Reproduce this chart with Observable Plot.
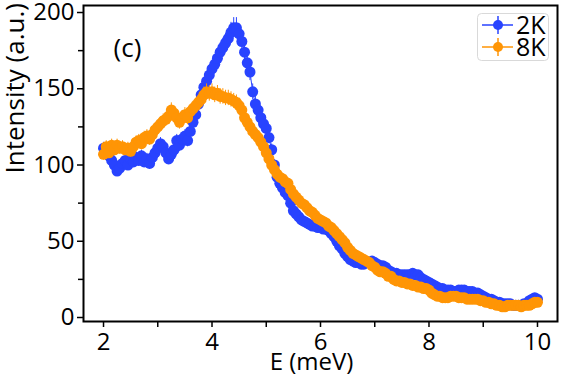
<!DOCTYPE html>
<html><head><meta charset="utf-8">
<script src="https://cdn.jsdelivr.net/npm/d3@7"></script>
<script src="https://cdn.jsdelivr.net/npm/@observablehq/plot@0.6"></script>
<style>
body{margin:0;background:#fff;}
#wrap{position:relative;width:565px;height:377px;font-family:"Open Sans",sans-serif;}
#legend{position:absolute;left:477px;top:13px;}
</style></head><body><div id="wrap"></div>
<script>
const energy = [
2.00,2.05,2.10,2.15,2.20,2.25,2.30,2.35,2.40,2.45,2.50,2.55,2.60,2.65,2.70,2.75,2.80,2.85,2.90,2.95,
3.00,3.05,3.10,3.15,3.20,3.25,3.30,3.35,3.40,3.45,3.50,3.55,3.60,3.65,3.70,3.75,3.80,3.85,3.90,3.95,
4.00,4.05,4.10,4.15,4.20,4.25,4.30,4.35,4.40,4.45,4.50,4.55,4.60,4.65,4.70,4.75,4.80,4.85,4.90,4.95,
5.00,5.05,5.10,5.15,5.20,5.25,5.30,5.35,5.40,5.45,5.50,5.55,5.60,5.65,5.70,5.75,5.80,5.85,5.90,5.95,
6.00,6.05,6.10,6.15,6.20,6.25,6.30,6.35,6.40,6.45,6.50,6.55,6.60,6.65,6.70,6.75,6.80,6.85,6.90,6.95,
7.00,7.05,7.10,7.15,7.20,7.25,7.30,7.35,7.40,7.45,7.50,7.55,7.60,7.65,7.70,7.75,7.80,7.85,7.90,7.95,
8.00,8.05,8.10,8.15,8.20,8.25,8.30,8.35,8.40,8.45,8.50,8.55,8.60,8.65,8.70,8.75,8.80,8.85,8.90,8.95,
9.00,9.05,9.10,9.15,9.20,9.25,9.30,9.35,9.40,9.45,9.50,9.55,9.60,9.65,9.70,9.75,9.80,9.85,9.90,9.95,
10.00];
const int2K = [
111,108,106,103,100,96,98,101,103,100,104,102,105,103,106,102,104,101,105,108,
111,114,112,108,104,107,110,116,113,117,119,116,122,128,133,140,146,151,155,159,
163,166,170,174,177,180,183,187,190,190,186,181,174,167,161,148,140,136,131,127,
124,118,110,100,92,88,85,82,80,75,70,68,66,64,63,62,61,60,60,59,
59,58,58,57,55,53,50,47,45,42,40,38,37,36,36,35,35,36,36,37,
36,35,34,34,33,31,30,29,29,28,28,28,28,28,29,28,28,26,25,24,
23,22,21,20,19,19,18,18,18,17,17,18,18,18,17,17,17,16,16,15,
14,13,12,12,11,10,10,9,9,9,9,8,8,8,8,9,9,11,12,13,
12];
const int8K = [
107,112,108,113,110,113,111,112,110,111,109,112,115,116,114,118,119,117,120,123,
125,127,129,130,132,136,134,131,128,131,133,131,135,137,139,141,143,146,148,147,
148,146,147,145,145,144,144,143,142,141,139,136,131,128,125,122,120,118,115,112,
108,104,100,97,94,92,91,89,88,84,81,79,77,75,74,72,70,69,67,65,
64,63,62,60,59,57,55,53,51,49,46,44,42,41,40,39,38,37,36,34,
33,31,30,30,29,27,27,25,24,24,23,23,22,22,21,21,20,20,19,19,
18,16,15,14,14,13,13,13,14,14,14,13,13,13,12,12,12,12,12,11,
11,10,10,9,9,8,8,7,7,8,8,8,8,8,7,8,8,8,9,10,
10];
const relErr = 0.035;
const seriesNames = ["2K", "8K"];
const seriesColors = ["#2843ff", "#ff9505"];
const xMajor = [2, 4, 6, 8, 10];
const xMinor = [3, 5, 7, 9];
const yMajor = [0, 50, 100, 150, 200];
const yMinor = [25, 75, 125, 175];

const d2 = energy.map((e, i) => ({E: e, I: int2K[i]}));
const d8 = energy.map((e, i) => ({E: e, I: int8K[i]}));

function seriesMarks(data, color) {
  return [
    Plot.line(data, {x: "E", y: "I", stroke: color, strokeWidth: 1}),
    Plot.ruleX(data, {x: "E", y1: d => d.I * (1 - relErr), y2: d => d.I * (1 + relErr), stroke: color, strokeWidth: 1}),
    Plot.dot(data, {x: "E", y: "I", r: 5.5, fill: color, stroke: "none"})
  ];
}

const chart = Plot.plot({
  width: 565, height: 377,
  marginLeft: 83, marginRight: 8, marginTop: 5, marginBottom: 56,
  style: {fontFamily: "Open Sans", background: "white", color: "black", overflow: "visible"},
  x: {domain: [1.631, 10.369]},
  y: {domain: [-2.62, 204.6]},
  marks: [
    ...seriesMarks(d2, seriesColors[0]),
    ...seriesMarks(d8, seriesColors[1]),
    Plot.frame({stroke: "black", strokeWidth: 2}),
    Plot.axisX({ticks: xMajor, tickSize: 6, tickPadding: 5, fontSize: 24, label: null, strokeWidth: 1.5}),
    Plot.axisX({ticks: xMinor, tickSize: 6, tickFormat: () => "", label: null, strokeWidth: 1.5}),
    Plot.axisY({ticks: yMajor, tickSize: 6, tickPadding: 3, fontSize: 24, label: null, strokeWidth: 1.5}),
    Plot.axisY({ticks: yMinor, tickSize: 5, tickFormat: () => "", label: null, strokeWidth: 1.5}),
    Plot.text(["E (meV)"], {frameAnchor: "bottom", dx: -9, dy: 41, fontSize: 24, lineAnchor: "middle", fill: "black"}),
    Plot.text(["Intensity (a.u.)"], {frameAnchor: "left", dx: -68, dy: 10, rotate: -90, fontSize: 26, lineAnchor: "middle", fill: "black"}),
    Plot.text(["(c)"], {frameAnchor: "top-left", dx: 44, dy: 43, fontSize: 26, lineAnchor: "middle", textAnchor: "middle", fill: "black"})
  ]
});
const wrap = document.getElementById("wrap");
wrap.appendChild(chart);

// legend
const lg = d3.select(wrap).append("svg").attr("id", "legend").attr("width", 72).attr("height", 48);
lg.append("rect").attr("x", 0.5).attr("y", 0.5).attr("width", 71).attr("height", 47).attr("rx", 4)
  .attr("fill", "white").attr("stroke", "#d9d9d9");
seriesNames.forEach((name, i) => {
  const cy = 12 + i * 22;
  const g = lg.append("g");
  g.append("line").attr("x1", 5).attr("x2", 36).attr("y1", cy).attr("y2", cy).attr("stroke", seriesColors[i]).attr("stroke-width", 1.5);
  g.append("line").attr("x1", 21).attr("x2", 21).attr("y1", cy - 9).attr("y2", cy + 9).attr("stroke", seriesColors[i]).attr("stroke-width", 1.5);
  g.append("circle").attr("cx", 21).attr("cy", cy).attr("r", 5).attr("fill", seriesColors[i]);
  g.append("text").attr("x", 39).attr("y", cy).attr("dy", "0.36em").attr("font-size", 25)
    .attr("font-family", "Open Sans").attr("fill", "black").text(name);
});
</script></body></html>
